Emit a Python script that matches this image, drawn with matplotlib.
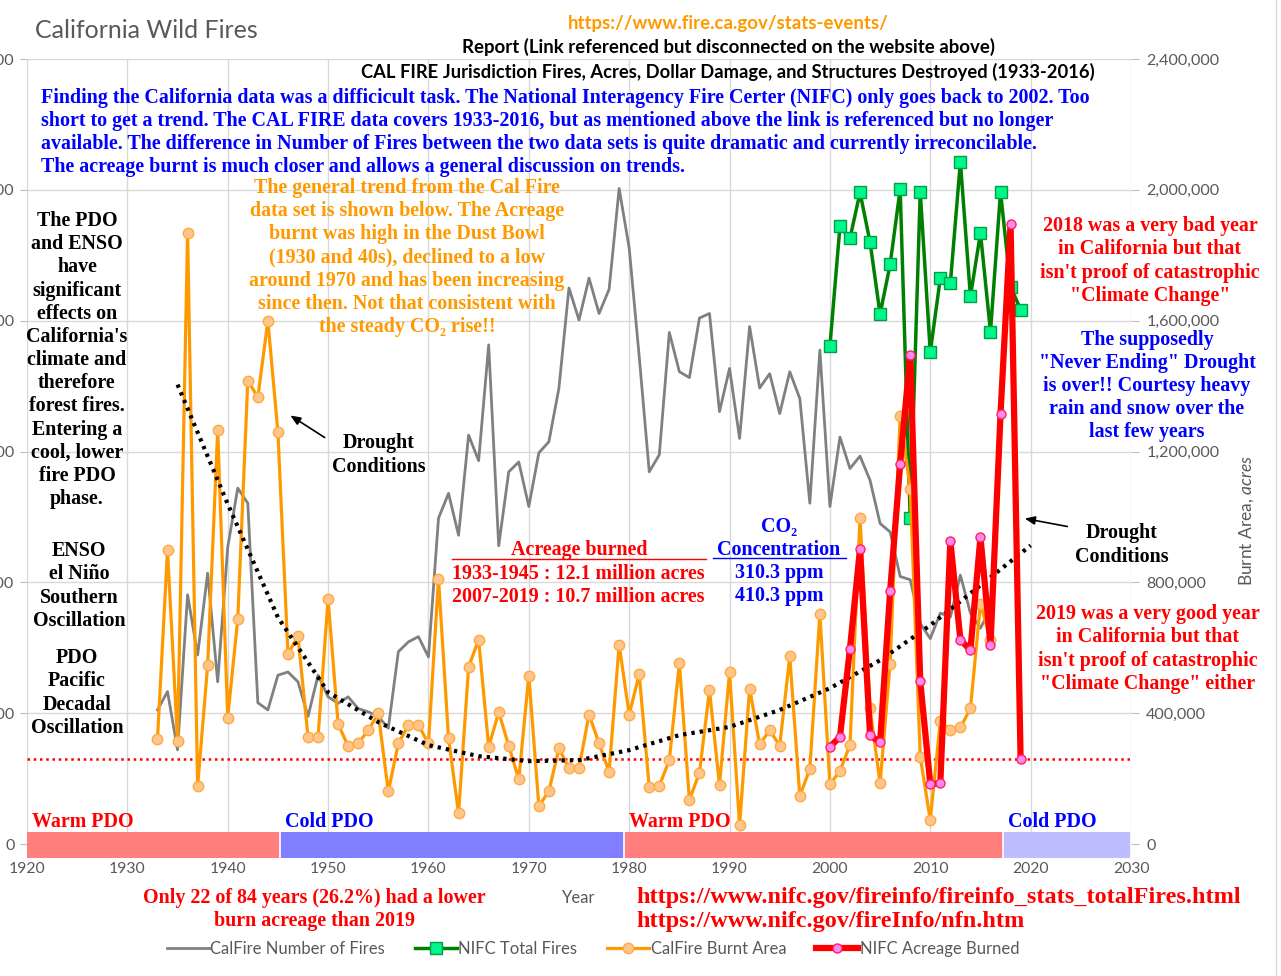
import matplotlib
matplotlib.use("Agg")
import matplotlib.pyplot as plt
from matplotlib.lines import Line2D
import numpy as np

# CAL FIRE data 1933-2016 (left axis: number of fires, right axis: acres)
calfire_years = np.arange(1933, 2017)
calfire_fires = [2050, 2330, 1440, 3810, 2890, 4140, 2480, 4540, 5440, 5210,
                 2160, 2050, 2580, 2630, 2480, 1950, 2580, 2250, 2150, 2250,
                 2070, 2020, 1950, 1770, 2940, 3090, 3170, 2860, 4980, 5360,
                 4720, 6250, 5860, 7630, 4560, 5690, 5840, 5160, 5980, 6150,
                 6970, 8500, 8010, 8650, 8110, 8480, 10020, 9110, 7450, 5690,
                 5950, 7820, 7220, 7130, 8040, 8110, 6610, 7270, 6200, 7910,
                 6970, 7190, 6580, 7220, 6810, 5210, 7550, 5160, 6220, 5740,
                 5930, 5560, 4900, 4770, 4090, 4040, 3370, 3140, 3530, 3470,
                 4110, 3530, 3300, 3600]
calfire_acres = [320600, 897700, 315400, 1868700, 177100, 546600, 1266300, 386800, 688000, 1416800,
                 1365800, 1600000, 1259000, 582300, 635100, 327600, 327600, 749000, 366400, 299200,
                 307500, 348100, 399100, 160900, 307500, 363400, 363400, 307500, 811300, 323700,
                 93700, 541400, 625000, 297100, 403100, 300200, 197600, 515100, 116000, 161800,
                 292200, 232000, 232000, 396000, 307500, 220800, 609800, 396000, 519100, 173100,
                 178000, 256500, 553600, 134400, 217700, 470200, 180200, 526100, 58000, 475400,
                 304400, 348100, 300200, 574000, 146600, 229900, 704400, 182300, 223800, 302300,
                 997600, 414400, 185300, 551800, 1309900, 1086100, 266600, 73300, 376500, 348100,
                 356300, 414400, 735000, 622900]

# NIFC data 2000-2019
nifc_years = np.arange(2000, 2020)
nifc_fires = [7610, 9440, 9260, 9960, 9200, 8100, 8860, 10010, 4980, 9970,
              7520, 8650, 8570, 10430, 8370, 9340, 7830, 9970, 8520, 8170]
nifc_acres = [297100, 327600, 597600, 902900, 332800, 310500, 772500, 1162400, 1495300, 497700,
              183200, 185300, 926100, 625000, 592400, 938300, 609800, 1315100, 1895300, 259500]

trend_years = list(range(1935, 2021, 5))
trend_acres = [1404600, 1039400, 693100, 464100, 372500, 302300, 268700, 253400, 256500,
               287000, 333000, 358000, 410000, 476300, 561800, 668700, 790800, 913000]

# PDO phases
pdo_starts = [1920, 1945.2, 1979.5, 2017.2]
pdo_ends = [1945.2, 1979.5, 2017.2, 2030]
pdo_labels = ["Warm PDO", "Cold PDO", "Warm PDO", "Cold PDO"]
pdo_fill = ["#FF7F7F", "#7F7FFF", "#FF7F7F", "#BDBDFF"]
pdo_text = ["#FF0000", "#0000FF", "#FF0000", "#0000FF"]

W, H = 1281, 976
SERIF = ["Liberation Serif", "DejaVu Serif"]
SANS = ["Lato", "DejaVu Sans"]
GREY = "#595959"
FS = 14.4
plt.rcParams["mathtext.fontset"] = "custom"
plt.rcParams["mathtext.it"] = "Lato:italic"
plt.rcParams["mathtext.rm"] = "Lato"

fig = plt.figure(figsize=(W / 100, H / 100), dpi=100)
ax1 = fig.add_axes([27 / W, 1 - 858.1 / H, 1104 / W, (858.1 - 59) / H])
ax2 = ax1.twinx()

ax1.set_xlim(1920, 2030)
ax1.set_ylim(-215, 12000)
ax2.set_ylim(-43000, 2400000)
ax1.set_xticks(range(1920, 2031, 10))
ax1.set_yticks(range(0, 12001, 2000))
ax2.set_yticks(range(0, 2400001, 400000))
ax1.yaxis.set_major_formatter(matplotlib.ticker.StrMethodFormatter("{x:,.0f}"))
ax2.yaxis.set_major_formatter(matplotlib.ticker.StrMethodFormatter("{x:,.0f}"))
ax1.grid(True, color="#D9D9D9", lw=1)
ax1.set_axisbelow(True)
for a in (ax1, ax2):
    for s in a.spines.values():
        s.set_visible(False)
ax1.tick_params(axis="x", length=0, pad=3, labelsize=11.3, labelcolor=GREY)
ax1.tick_params(axis="y", length=5, pad=4, labelsize=11.6, labelcolor=GREY, color="#BFBFBF")
ax2.tick_params(axis="y", length=6, pad=5, labelsize=11.6, labelcolor=GREY, color="#BFBFBF")
for lab in ax1.get_xticklabels() + ax1.get_yticklabels() + ax2.get_yticklabels():
    lab.set_family(SANS)

# series
l_gray, = ax1.plot(calfire_years, calfire_fires, color="#808080", lw=2, label="CalFire Number of Fires")
l_green, = ax1.plot(nifc_years, nifc_fires, color="#008000", lw=2.5, marker="s", ms=9,
                    mfc="#00F58A", mec="#00A040", mew=1, label="NIFC Total Fires")
l_orange, = ax2.plot(calfire_years, calfire_acres, color="#FF9900", lw=2.3, marker="o", ms=7.5,
                     mfc="#FFC58A", mec="#FFAA40", mew=1, label="CalFire Burnt Area", zorder=3)
ax2.plot(trend_years, trend_acres, color="black", lw=3, ls=(0, (0.8, 1.2)), zorder=4)

l_red, = ax2.plot(nifc_years, nifc_acres, color="#FF0000", lw=4.5, marker="o", ms=6.5,
                  mfc="#FF88EE", mec="#FF2060", mew=1, label="NIFC Acreage Burned", zorder=5)
ax2.axhline(nifc_acres[-1], color="#FF0000", lw=1.8, ls=(0, (1, 1.5)), zorder=2)

# PDO bands
for x0, x1, lab, fc, tc in zip(pdo_starts, pdo_ends, pdo_labels, pdo_fill, pdo_text):
    ax2.fill_between([x0, x1], -43000, 36600, color=fc, lw=0, zorder=1)
    ax2.plot([x1, x1], [-43000, 36600], color="white", lw=1.2, zorder=1.5)
    ax2.text(x0 + 0.5, 66000, lab, color=tc, family=SERIF, weight="bold", fontsize=FS,
             ha="left", va="center")


def txt(x, y, s, **kw):
    return fig.text(x / W, 1 - (y + 2) / H, s, va="center", **kw)


def block(x, y0, dy, lines, **kw):
    for i, line in enumerate(lines):
        txt(x, y0 + i * dy, line, **kw)


# header
txt(35, 28, "California Wild Fires", family=SANS, fontsize=18, color=GREY, ha="left")
txt(728, 21, "https://www.fire.ca.gov/stats-events/", family=SANS, weight="bold", fontsize=13.4,
    color="#FF9900", ha="center")
txt(728, 45, "Report (Link referenced but disconnected on the website above)", family=SANS,
    weight="bold", fontsize=13.4, color="black", ha="center")
txt(728, 70, "CAL FIRE Jurisdiction Fires, Acres, Dollar Damage, and Structures Destroyed (1933-2016)",
    family=SANS, weight="bold", fontsize=13.2, color="black", ha="center")

serif_kw = dict(family=SERIF, weight="bold", fontsize=FS)
block(41, 96, 23, [
    "Finding the California data was a difficicult task. The National Interagency Fire Certer (NIFC) only goes back to 2002. Too",
    "short to get a trend. The CAL FIRE data covers 1933-2016, but as mentioned above the link is referenced but no longer",
    "available. The difference in Number of Fires between the two data sets is quite dramatic and currently irreconcilable.",
    "The acreage burnt is much closer and allows a general discussion on trends.",
], color="#0000FF", ha="left", **serif_kw)

block(407, 186, 23.2, [
    "The general trend from the Cal Fire",
    "data set is shown below. The Acreage",
    "burnt was high in the Dust Bowl",
    "(1930 and 40s), declined to a low",
    "around 1970 and has been increasing",
    "since then. Not that consistent with",
    "the steady CO\u2082 rise!!",
], color="#FF9900", ha="center", **serif_kw)

block(77, 219, 23.17, ["The PDO", "and ENSO", "have", "significant", "effects on", "California's",
                       "climate and", "therefore", "forest fires.", "Entering a", "cool, lower",
                       "fire PDO", "phase."], color="black", ha="center", **serif_kw)
block(79, 549, 23.4, ["ENSO", "el Niño", "Southern", "Oscillation"], color="black", ha="center", **serif_kw)
block(77, 656, 23.4, ["PDO", "Pacific", "Decadal", "Oscillation"], color="black", ha="center", **serif_kw)

block(379, 441, 24, ["Drought", "Conditions"], color="black", ha="center", **serif_kw)
block(1122, 531, 24, ["Drought", "Conditions"], color="black", ha="center", **serif_kw)
for (xs, ys), (xe, ye) in [((327, 439), (288, 414)), ((1070, 527), (1022, 518))]:
    fig.add_artist(matplotlib.patches.FancyArrowPatch(
        (xs / W, 1 - ys / H), (xe / W, 1 - ye / H), transform=fig.transFigure,
        arrowstyle="-|>,head_length=6,head_width=2.5", color="black", lw=1.2))

txt(579, 548, "Acreage burned", color="#FF0000", ha="center", **serif_kw)
block(452, 572, 23, ["1933-1945 : 12.1 million acres", "2007-2019 : 10.7 million acres"],
      color="#FF0000", ha="left", **serif_kw)
fig.add_artist(Line2D([452 / W, 706 / W], [1 - 559 / H] * 2, color="#FF0000", lw=1))

block(779, 525, 23, ["CO\u2082", "Concentration", "310.3 ppm", "410.3 ppm"],
      color="#0000FF", ha="center", **serif_kw)
fig.add_artist(Line2D([713 / W, 846 / W], [1 - 558 / H] * 2, color="#0000FF", lw=1))

block(1150, 224, 23.4, ["2018 was a very bad year", "in California but that",
                         "isn't proof of catastrophic", "\"Climate Change\""],
      color="#FF0000", ha="center", **serif_kw)
block(1147, 338, 23, ["The supposedly", "\"Never Ending\" Drought", "is over!! Courtesy heavy",
                       "rain and snow over the", "last few years"],
      color="#0000FF", ha="center", **serif_kw)
block(1148, 612, 23.4, ["2019 was a very good year", "in California but that",
                         "isn't proof of catastrophic", "\"Climate Change\" either"],
      color="#FF0000", ha="center", **serif_kw)

block(314, 896, 23, ["Only 22 of 84 years (26.2%) had a lower", "burn acreage than 2019"],
      color="#FF0000", ha="center", **serif_kw)
block(636, 895, 25, ["https://www.nifc.gov/fireinfo/fireinfo_stats_totalFires.html",
                      "https://www.nifc.gov/fireInfo/nfn.htm"],
      color="#FF0000", ha="left", family=SERIF, weight="bold", fontsize=17.5)

txt(579, 896, "Year", family=SANS, fontsize=12, color=GREY, ha="center")
fig.text(1247 / W, 1 - 520 / H, "Burnt Area, $\\it{acres}$", family=SANS, fontsize=12.5,
         color=GREY, rotation=90, ha="center", va="center")

fig.legend(handles=[l_gray, l_green, l_orange, l_red], loc="center", ncol=4,
           bbox_to_anchor=(593 / W, 1 - 949 / H), frameon=False, handlelength=2.5,
           handletextpad=0.1, columnspacing=1.8, prop=dict(family=SANS, size=12),
           labelcolor=GREY, numpoints=1)

fig.add_artist(Line2D([1276 / W] * 2, [0, 1], color="#D9D9D9", lw=1))

fig.savefig("out.png", dpi=100)
